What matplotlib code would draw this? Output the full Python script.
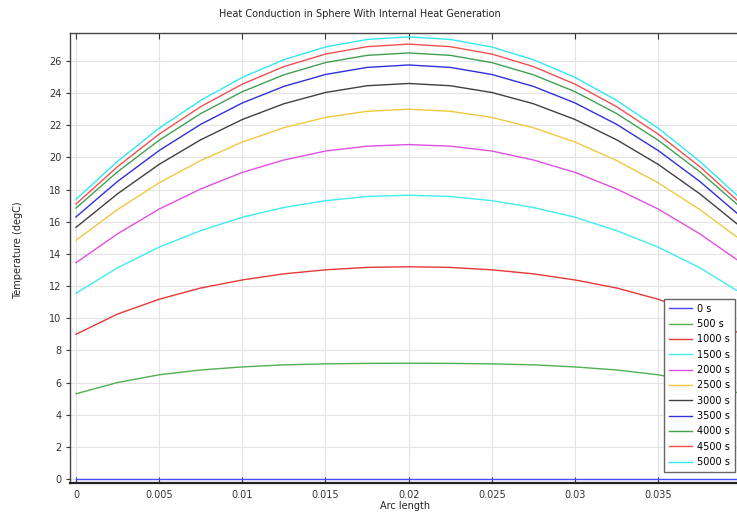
import matplotlib
matplotlib.use('Agg')
from matplotlib import pyplot as plt

# arc length positions (m)
arc = [0, 0.0025, 0.005, 0.0075, 0.01, 0.0125, 0.015, 0.0175, 0.02,
       0.0225, 0.025, 0.0275, 0.03, 0.0325, 0.035, 0.0375, 0.04]

times = ['0 s', '500 s', '1000 s', '1500 s', '2000 s', '2500 s',
         '3000 s', '3500 s', '4000 s', '4500 s', '5000 s']

# temperature (degC) for each time step
t0 = [0] * 17
t500 = [5.3, 6.0, 6.48, 6.78, 6.97, 7.1, 7.16, 7.19, 7.2,
        7.19, 7.16, 7.1, 6.97, 6.78, 6.48, 6.0, 5.3]
t1000 = [9.0, 10.26, 11.18, 11.88, 12.38, 12.76, 13.01, 13.16, 13.2,
         13.16, 13.01, 12.76, 12.38, 11.88, 11.18, 10.26, 9.0]
t1500 = [11.55, 13.14, 14.42, 15.45, 16.28, 16.89, 17.31, 17.57, 17.65,
         17.57, 17.31, 16.89, 16.28, 15.45, 14.42, 13.14, 11.55]
t2000 = [13.45, 15.25, 16.79, 18.04, 19.07, 19.84, 20.4, 20.7, 20.8,
         20.7, 20.4, 19.84, 19.07, 18.04, 16.79, 15.25, 13.45]
t2500 = [14.85, 16.76, 18.42, 19.81, 20.96, 21.85, 22.49, 22.87, 23.0,
         22.87, 22.49, 21.85, 20.96, 19.81, 18.42, 16.76, 14.85]
t3000 = [15.65, 17.74, 19.57, 21.1, 22.36, 23.34, 24.04, 24.46, 24.6,
         24.46, 24.04, 23.34, 22.36, 21.1, 19.57, 17.74, 15.65]
t3500 = [16.3, 18.51, 20.43, 22.06, 23.39, 24.42, 25.16, 25.6, 25.75,
         25.6, 25.16, 24.42, 23.39, 22.06, 20.43, 18.51, 16.3]
t4000 = [16.85, 19.11, 21.07, 22.73, 24.09, 25.14, 25.9, 26.35, 26.5,
         26.35, 25.9, 25.14, 24.09, 22.73, 21.07, 19.11, 16.85]
t4500 = [17.1, 19.43, 21.45, 23.16, 24.56, 25.65, 26.43, 26.89, 27.05,
         26.89, 26.43, 25.65, 24.56, 23.16, 21.45, 19.43, 17.1]
t5000 = [17.4, 19.76, 21.82, 23.55, 24.98, 26.08, 26.87, 27.34, 27.5,
         27.34, 26.87, 26.08, 24.98, 23.55, 21.82, 19.76, 17.4]

temps = [t0, t500, t1000, t1500, t2000, t2500, t3000, t3500, t4000, t4500, t5000]
colors = ['#4848ff', '#50b050', '#e83838', '#40ecec', '#e050e0', '#f0c840',
          '#404040', '#3030d8', '#40a050', '#f05050', '#30e8f0']

xticks = [0, 0.005, 0.01, 0.015, 0.02, 0.025, 0.03, 0.035]
xlabels = ['0', '0.005', '0.01', '0.015', '0.02', '0.025', '0.03', '0.035']

fig = plt.figure(figsize=(7.37, 5.12), dpi=100)
ax = fig.add_axes([70 / 737, 29 / 512, 678 / 737, 450 / 512])

for vals, lab, col in zip(temps, times, colors):
    ax.plot(arc, vals, color=col, lw=1.0, label=lab)

ax.set_xlim(-0.00036, 0.0404)
ax.set_ylim(-0.25, 27.74)
ax.set_xticks(xticks)
ax.set_xticklabels(xlabels)
ax.set_yticks(range(0, 27, 2))
ax.grid(True, color='#e4e4e4', lw=0.8)
ax.set_axisbelow(True)
ax.tick_params(axis='x', direction='in', length=4, top=True, labelsize=7,
               labelcolor='#333333', pad=5, color='#333333')
ax.tick_params(axis='y', direction='out', length=3, labelsize=7,
               labelcolor='#333333', pad=3, color='#333333')
for s in ax.spines.values():
    s.set_color('#444444')
    s.set_linewidth(1.0)
ax.spines['bottom'].set_linewidth(1.6)
ax.spines['bottom'].set_color('#222222')

fig.text(360 / 737, 1 - 14 / 512, 'Heat Conduction in Sphere With Internal Heat Generation',
         ha='center', va='center', fontsize=7, color='#222222')
fig.text(18 / 737, 1 - 250 / 512, 'Temperature (degC)', rotation=90,
         ha='center', va='center', fontsize=7, color='#222222')
fig.text(405 / 737, 1 - 506 / 512, 'Arc length', ha='center', va='center',
         fontsize=7, color='#222222')

leg = ax.legend(loc='lower right', bbox_to_anchor=(735 / 737, 40 / 512),
                bbox_transform=fig.transFigure, fontsize=7, fancybox=False,
                framealpha=1, edgecolor='#666666', handlelength=2.4,
                labelspacing=0.55, borderpad=0.5, handletextpad=0.5,
                borderaxespad=0)
leg.get_frame().set_linewidth(1.0)

fig.savefig('out.png', dpi=100)
